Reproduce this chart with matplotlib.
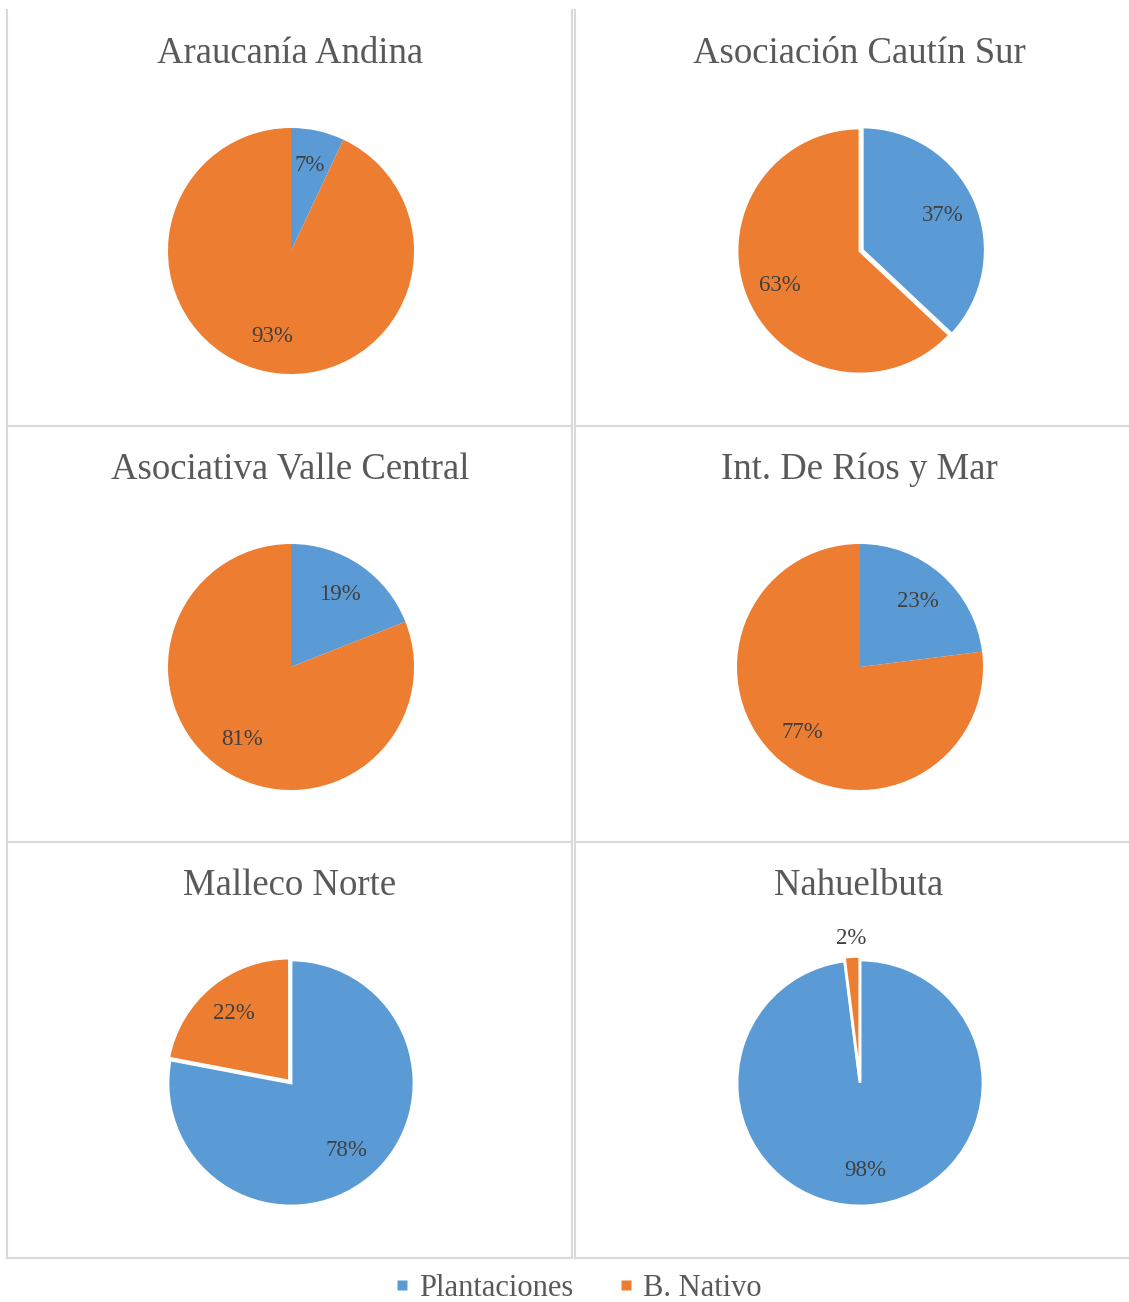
import numpy as np
import matplotlib
matplotlib.use("Agg")
import matplotlib.pyplot as plt
from matplotlib.lines import Line2D

plt.rcParams["font.family"] = ["Liberation Serif", "DejaVu Serif"]

# data
titles = ["Araucanía Andina", "Asociación Cautín Sur",
          "Asociativa Valle Central", "Int. De Ríos y Mar",
          "Malleco Norte", "Nahuelbuta"]
plantaciones = [7, 37, 19, 23, 78, 98]
nativo = [93, 63, 81, 77, 22, 2]
series = ["Plantaciones", "B. Nativo"]
explode = [(0, 0), (0.02, 0), (0, 0), (0, 0), (0, 0.02), (0, 0.03)]
white_edge = [False, True, False, False, True, True]

BLUE = "#5B9BD5"
ORANGE = "#ED7D31"
TXT = "#595959"
GRID = "#D9D9D9"

W, H = 1129, 1302
fig = plt.figure(figsize=(W / 100, H / 100), dpi=100)


def fx(x):
    return x / W


def fy(y):
    return 1 - y / H


# panel borders
def hline(y, x0, x1):
    fig.add_artist(Line2D([fx(x0), fx(x1)], [fy(y), fy(y)], color=GRID, lw=1.5,
                          transform=fig.transFigure))


def vline(x, y0, y1):
    fig.add_artist(Line2D([fx(x), fx(x)], [fy(y0), fy(y1)], color=GRID, lw=1.5,
                          transform=fig.transFigure))


for x in (7, 572, 575):
    vline(x, 10, 1258)
for y in (426, 842, 1258):
    hline(y, 7, 572)
    hline(y, 575, 1129)

col_cx = [291, 860]
row_cy = [251, 667, 1083]
title_cx = [290, 859]
title_base = [63, 479, 895]
R = 123
half = 150
lim = half / R

for i, title in enumerate(titles):
    r, c = divmod(i, 2)
    cx, cy = col_cx[c], row_cy[r]
    ax = fig.add_axes([fx(cx - half), fy(cy + half), 2 * half / W, 2 * half / H])
    vals = [plantaciones[i], nativo[i]]
    wp = dict(edgecolor="white", linewidth=2) if white_edge[i] else dict(linewidth=0)
    wedges, _ = ax.pie(vals, colors=[BLUE, ORANGE], startangle=90, counterclock=False,
                       explode=explode[i], wedgeprops=wp)
    total = sum(vals)
    for w, v in zip(wedges, vals):
        mid = np.deg2rad((w.theta1 + w.theta2) / 2)
        d = 1.15 if v / total < 0.05 else 0.71
        x0, y0 = w.center
        ax.text(x0 + d * np.cos(mid), y0 + d * np.sin(mid), f"{v}%",
                ha="center", va="center", fontsize=16.5, color="#404040")
    ax.set_xlim(-lim, lim)
    ax.set_ylim(-lim, lim)
    ax.set_aspect("equal")
    ax.axis("off")
    fig.text(fx(title_cx[c]), fy(title_base[r]), title, ha="center", va="baseline",
             fontsize=26.5, color=TXT)

handles = [Line2D([], [], marker="s", color="none", markerfacecolor=col,
                  markeredgecolor="none", markersize=7, label=lab)
           for col, lab in zip([BLUE, ORANGE], series)]
fig.legend(handles=handles, loc="center", bbox_to_anchor=(fx(578), fy(1288)),
           ncol=2, frameon=False, fontsize=22, handlelength=0.5, handletextpad=0.3,
           columnspacing=1.5, labelcolor=TXT)

fig.savefig("out.png", dpi=100, facecolor="white")
